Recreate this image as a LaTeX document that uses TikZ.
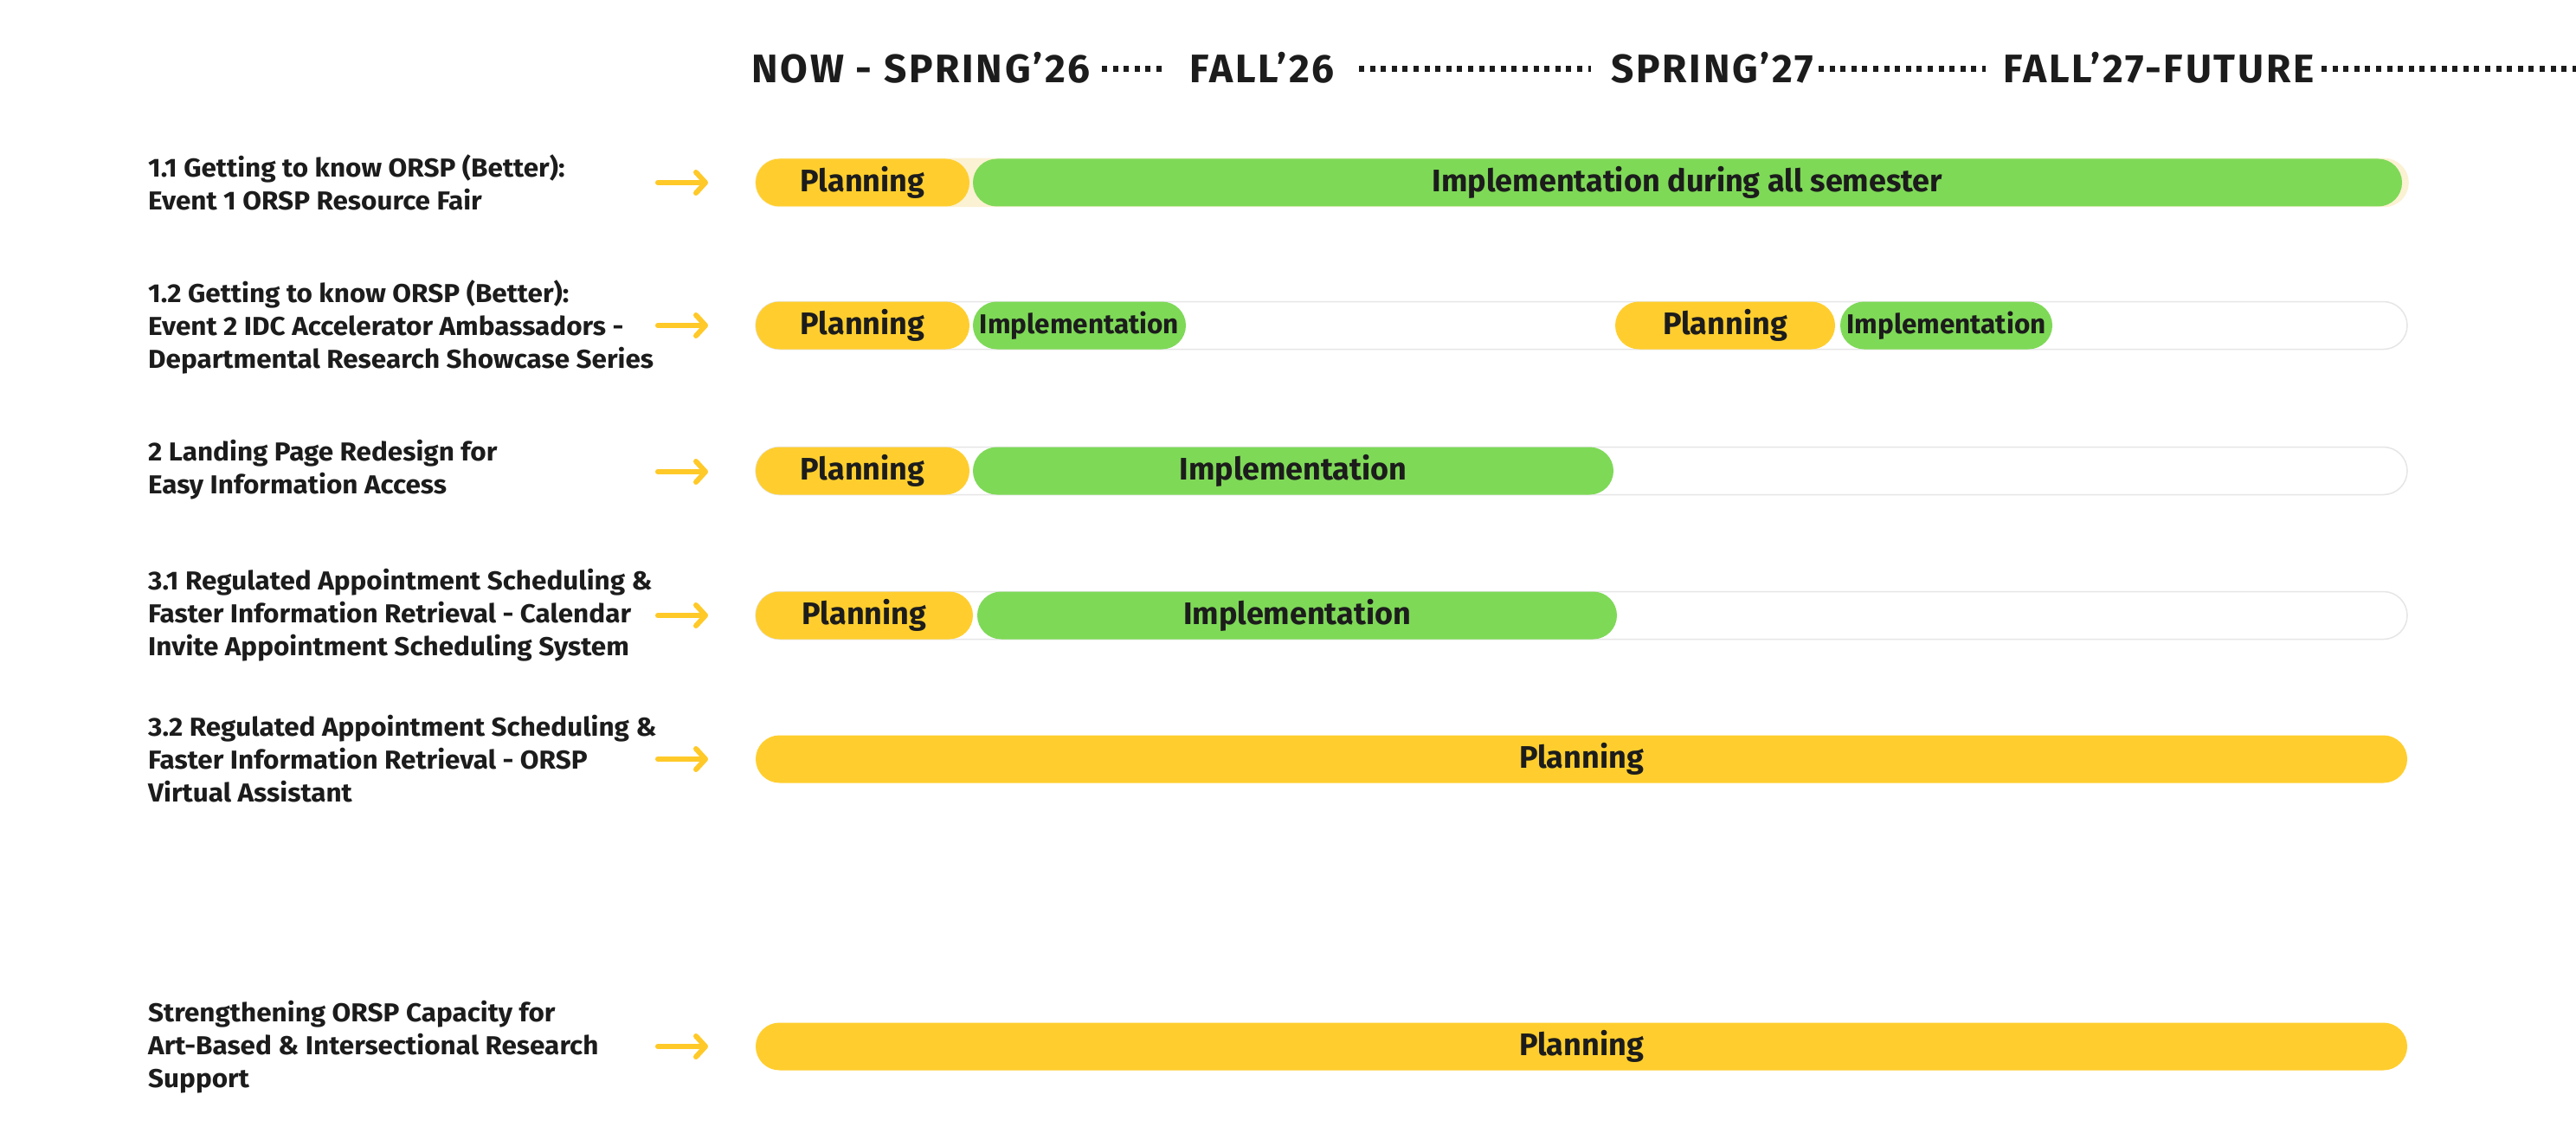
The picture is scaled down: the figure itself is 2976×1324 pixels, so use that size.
\documentclass[tikz,border=0pt]{standalone}
\usepackage{fontspec}
\setmainfont{Fira Sans}
\newfontfamily\labfont{Fira Sans}
\newfontfamily\wlabfont{Fira Sans}[FakeStretch=1.05]
\newfontfamily\headfont{Fira Sans}[LetterSpace=6]
\usetikzlibrary{arrows.meta}
\definecolor{ink}{HTML}{1C1C1C}
\definecolor{ylw}{HTML}{FFCE2E}
\definecolor{grn}{HTML}{7ED957}
\definecolor{cream}{HTML}{FBF1D3}
\definecolor{trk}{HTML}{E6E6E6}
\definecolor{arrowc}{HTML}{FFC928}
\tikzset{
  lab/.style={anchor=west, inner sep=0pt, align=left, text=ink,
    font=\wlabfont\bfseries\fontsize{30}{38}\selectfont},
  head/.style={inner sep=0pt, text=ink, font=\headfont\bfseries\fontsize{46}{52}\selectfont},
  dotline/.style={line width=7pt, dash pattern=on 6pt off 6.6pt, ink},
  pill/.style={rounded corners=27.5pt, inner sep=0pt, minimum height=55pt, text=ink,
    font=\labfont\bfseries\fontsize{36}{40}\selectfont},
  smallpill/.style={pill, font=\labfont\bfseries\fontsize{31.5}{34}\selectfont},
  track/.style={rounded corners=27.5pt, inner sep=0pt, minimum height=55pt, fill=white, draw=trk, line width=1.5pt},
  arr/.style={arrowc, line width=6pt, line cap=round, -{Straight Barb[length=11pt, width=24pt, round]}}
}
\newcommand\mkpill[7]{%
  \node[#6, fill=#5, minimum width={(#3-#2)*1pt}] (#1) at ({(#2+#3)/2},#4) {#7};}
\newcommand\mktrack[5]{%
  \node[track, #5, minimum width={(#3-#2)*1pt}] (#1) at ({(#2+#3)/2},#4) {};}
\begin{document}
\begin{tikzpicture}[x=1pt,y=-1pt]
\useasboundingbox (0,0) rectangle (2976,1324);
\fill[white] (0,0) rectangle (2976,1324);
% header
\node[head] (h1) at (1064,78) {NOW - SPRING’26};
\node[head] (h2) at (1458,78) {FALL’26};
\node[head] (h3) at (1978,78) {SPRING’27};
\node[head] (h4) at (2494,78) {FALL’27-FUTURE};
\coordinate (d1a) at (1273,80); \coordinate (d1b) at (1345,80);
\coordinate (d2a) at (1570,80); \coordinate (d2b) at (1838,80);
\coordinate (d3a) at (2101,80); \coordinate (d3b) at (2294,80);
\coordinate (d4a) at (2682,80); \coordinate (d4b) at (2980,80);
\draw[dotline] (d1a) -- (d1b);
\draw[dotline] (d2a) -- (d2b);
\draw[dotline] (d3a) -- (d3b);
\draw[dotline] (d4a) -- (d4b);
% labels
\node[lab] (l1) at (171,211) {1.1 Getting to know ORSP (Better):\\Event 1 ORSP Resource Fair};
\node[lab] (l2) at (171,378) {1.2 Getting to know ORSP (Better):\\Event 2 IDC Accelerator Ambassadors -\\Departmental Research Showcase Series};
\node[lab] (l3) at (171,543) {2 Landing Page Redesign for\\Easy Information Access};
\node[lab] (l4) at (171,711) {3.1 Regulated Appointment Scheduling \&\\Faster Information Retrieval - Calendar\\Invite Appointment Scheduling System};
\node[lab] (l5) at (171,877) {3.2 Regulated Appointment Scheduling \&\\Faster Information Retrieval - ORSP\\Virtual Assistant};
\node[lab] (l6) at (171,1210) {Strengthening ORSP Capacity for\\Art-Based \& Intersectional Research\\Support};
% arrows
\foreach \i/\y in {1/211,2/376,3/545,4/711,5/877,6/1209}{
  \coordinate (as\i) at (760,\y);
  \coordinate (ae\i) at (818,\y);
  \draw[arr] (as\i) -- (ae\i);
}
% tracks
\mktrack{t1}{873}{2782}{211}{fill=cream, draw=cream}
\mktrack{t2}{873}{2781}{376}{}
\mktrack{t3}{873}{2781}{544}{}
\mktrack{t4}{873}{2781}{711}{}
% row 1
\mkpill{p1}{873}{1120}{211}{ylw}{pill}{Planning}
\mkpill{i1}{1124}{2775}{211}{grn}{pill}{Implementation during all semester}
% row 2
\mkpill{p2}{873}{1120}{376}{ylw}{pill}{Planning}
\mkpill{i2}{1124}{1370}{376}{grn}{smallpill}{Implementation}
\mkpill{p2b}{1866}{2120}{376}{ylw}{pill}{Planning}
\mkpill{i2b}{2126}{2371}{376}{grn}{smallpill}{Implementation}
% row 3
\mkpill{p3}{873}{1120}{544}{ylw}{pill}{Planning}
\mkpill{i3}{1124}{1864}{544}{grn}{pill}{Implementation}
% row 4
\mkpill{p4}{873}{1124}{711}{ylw}{pill}{Planning}
\mkpill{i4}{1129}{1868}{711}{grn}{pill}{Implementation}
% row 5, 6
\mkpill{p5}{873}{2781}{877}{ylw}{pill}{Planning}
\mkpill{p6}{873}{2781}{1209}{ylw}{pill}{Planning}
\end{tikzpicture}
\end{document}
